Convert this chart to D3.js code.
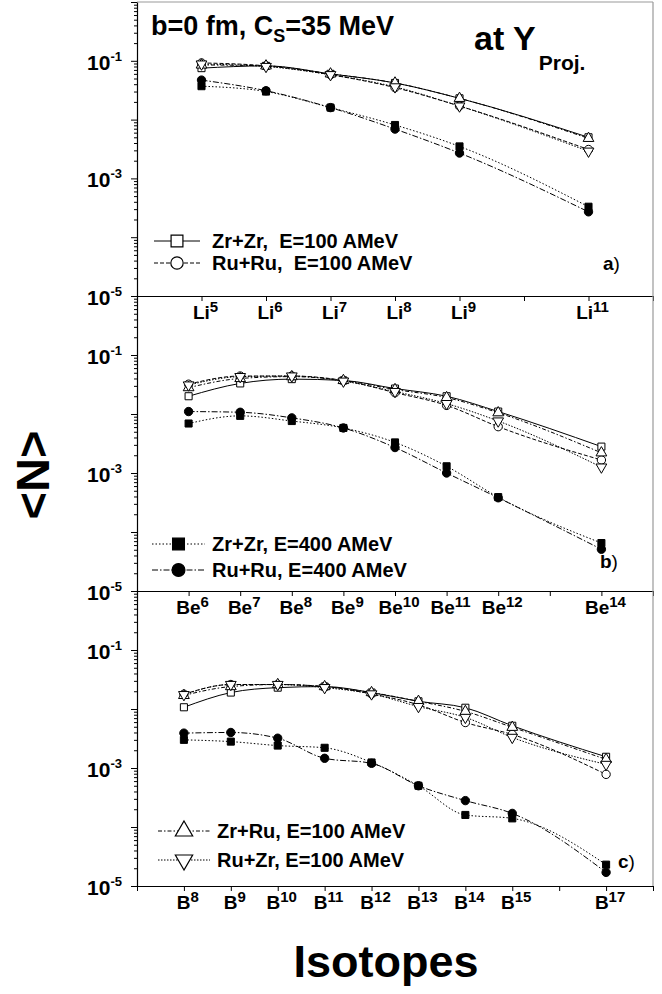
<!DOCTYPE html>
<html>
<head>
<meta charset="utf-8">
<script src="https://cdn.jsdelivr.net/npm/d3@7"></script>
<style>
  body { margin: 0; background: #fff; }
  svg { display: block; font-family: 'Liberation Sans', Arial, sans-serif; }
  text { white-space: pre; }
</style>
</head>
<body>
<svg id="chart"></svg>
<script>
// mass numbers shown on each panel
const liMass = [5, 6, 7, 8, 9, 11];
const beMass = [6, 7, 8, 9, 10, 11, 12, 14];
const bMass = [8, 9, 10, 11, 12, 13, 14, 15, 17];

// <N>, one array per system
const liZrZr100 = [0.075, 0.082, 0.060, 0.042, 0.023, 0.0050];
const liRuRu100 = [0.092, 0.082, 0.058, 0.035, 0.017, 0.0031];
const liZrZr400 = [0.037, 0.030, 0.016, 0.0081, 0.0035, 0.00033];
const liRuRu400 = [0.047, 0.031, 0.016, 0.0069, 0.0027, 0.00027];
const liZrRu100 = [0.085, 0.082, 0.060, 0.042, 0.023, 0.0048];
const liRuZr100 = [0.088, 0.080, 0.058, 0.036, 0.017, 0.0029];

const beZrZr100 = [0.020, 0.033, 0.039, 0.037, 0.027, 0.020, 0.011, 0.0028];
const beRuRu100 = [0.032, 0.044, 0.044, 0.037, 0.023, 0.014, 0.0061, 0.00166];
const beZrZr400 = [0.0069, 0.0093, 0.0076, 0.0058, 0.0033, 0.0013, 0.00039, 0.000065];
const beRuRu400 = [0.011, 0.0107, 0.0086, 0.0058, 0.0027, 0.0010, 0.00038, 0.000051];
const beZrRu100 = [0.028, 0.040, 0.043, 0.037, 0.026, 0.019, 0.0105, 0.0022];
const beRuZr100 = [0.031, 0.043, 0.044, 0.036, 0.024, 0.015, 0.0076, 0.00126];

const bZrZr100 = [0.0107, 0.019, 0.023, 0.024, 0.019, 0.0135, 0.0105, 0.0052, 0.00155];
const bRuRu100 = [0.0178, 0.026, 0.026, 0.024, 0.018, 0.0118, 0.0059, 0.0037, 0.00078];
const bZrZr400 = [0.0030, 0.0028, 0.0024, 0.0022, 0.00124, 0.0005, 0.00016, 0.00014, 0.000023];
const bRuRu400 = [0.0039, 0.0040, 0.0032, 0.00146, 0.0012, 0.0005, 0.00028, 0.00017, 0.000017];
const bZrRu100 = [0.017, 0.024, 0.026, 0.024, 0.019, 0.0135, 0.0091, 0.0049, 0.0014];
const bRuZr100 = [0.0175, 0.026, 0.026, 0.023, 0.018, 0.011, 0.0072, 0.0033, 0.00115];

const legendText = {
  zrzr100: 'Zr+Zr,  E=100 AMeV',
  ruru100: 'Ru+Ru,  E=100 AMeV',
  zrzr400: 'Zr+Zr, E=400 AMeV',
  ruru400: 'Ru+Ru, E=400 AMeV',
  zrru100: 'Zr+Ru, E=100 AMeV',
  ruzr100: 'Ru+Zr, E=100 AMeV'
};

const panelTags = ['a)', 'b)', 'c)'];

(() => {
  const width = 662;
  const height = 994;
  const left = 137;
  const right = 653;

  const style = {
    zrzr100: { type: d3.symbolSquare, fill: '#fff', dash: null, size: 50, lsize: 140 },
    ruru100: { type: d3.symbolCircle, fill: '#fff', dash: '4,2', size: 55, lsize: 120 },
    zrzr400: { type: d3.symbolSquare, fill: '#000', dash: '1.5,2', size: 50, lsize: 140 },
    ruru400: { type: d3.symbolCircle, fill: '#000', dash: '6,2,1.5,2', size: 55, lsize: 130 },
    zrru100: { type: d3.symbolTriangle, fill: '#fff', dash: '4,2,1.5,2', size: 50, lsize: 130 },
    ruzr100: { type: d3.symbolTriangle, fill: '#fff', dash: '1.5,1.5', size: 50, lsize: 130, flip: true }
  };

  const panels = [
    {
      el: 'Li', mass: liMass, shift: 4, xMax: 8, top: 2, bottom: 296,
      values: { zrzr100: liZrZr100, ruru100: liRuRu100, zrzr400: liZrZr400, ruru400: liRuRu400, zrru100: liZrRu100, ruzr100: liRuZr100 },
      legend: ['zrzr100', 'ruru100'], lx: [154, 200, 212], ly: [241, 263], tag: [603, 270]
    },
    {
      el: 'Be', mass: beMass, shift: 5, xMax: 10, top: 296, bottom: 591,
      values: { zrzr100: beZrZr100, ruru100: beRuRu100, zrzr400: beZrZr400, ruru400: beRuRu400, zrru100: beZrRu100, ruzr100: beRuZr100 },
      legend: ['zrzr400', 'ruru400'], lx: [152, 205, 212], ly: [544, 570], tag: [600, 568]
    },
    {
      el: 'B', mass: bMass, shift: 7, xMax: 11, top: 591, bottom: 886,
      values: { zrzr100: bZrZr100, ruru100: bRuRu100, zrzr400: bZrZr400, ruru400: bRuRu400, zrru100: bZrRu100, ruzr100: bRuZr100 },
      legend: ['zrru100', 'ruzr100'], lx: [158, 210, 217], ly: [831, 860], tag: [618, 868]
    }
  ];

  const svg = d3.select('#chart')
    .attr('width', width)
    .attr('height', height);

  const symbolPath = (key, big) => d3.symbol()
    .type(style[key].type)
    .size(big ? style[key].lsize : style[key].size)();

  panels.forEach((p, pi) => {
    const x = d3.scaleLinear().domain([0, p.xMax]).range([left, right]);
    const y = d3.scaleLog().domain([1e-5, 1]).range([p.bottom, p.top]);

    // frame (right and top lines are light in the original)
    svg.append('line')
      .attr('x1', right).attr('x2', right)
      .attr('y1', p.top).attr('y2', p.bottom)
      .attr('stroke', '#999').attr('stroke-width', 1.2);
    if (pi === 0) {
      svg.append('line')
        .attr('x1', left).attr('x2', right)
        .attr('y1', p.top).attr('y2', p.top)
        .attr('stroke', '#999').attr('stroke-width', 1.2);
    }

    // left log axis
    const yAxis = svg.append('g')
      .attr('transform', `translate(${left},0)`)
      .call(d3.axisLeft(y).tickValues(y.ticks()).tickSize(6).tickSizeOuter(0).tickFormat(''));
    yAxis.selectAll('.tick line')
      .attr('x2', d => Math.abs(Math.log10(d) - Math.round(Math.log10(d))) < 1e-9 ? -6 : -3);
    yAxis.select('.domain').attr('stroke-width', 1.2);

    [1e-1, 1e-3, 1e-5].forEach(v => {
      const t = svg.append('text')
        .attr('x', 122)
        .attr('y', y(v) + 9)
        .attr('text-anchor', 'end')
        .attr('font-size', 21)
        .attr('font-weight', 'bold')
        .text('10');
      t.append('tspan')
        .attr('dy', -9)
        .attr('font-size', 13)
        .text(String(Math.round(Math.log10(v))));
    });

    // bottom axis
    const xAxis = svg.append('g')
      .attr('transform', `translate(0,${p.bottom})`)
      .call(d3.axisBottom(x).tickValues(d3.range(0, p.xMax + 1)).tickSize(5).tickSizeOuter(0).tickFormat(''));
    xAxis.select('.domain').attr('stroke-width', 1.2);

    p.mass.forEach(m => {
      const t = svg.append('text')
        .attr('x', x(m - p.shift) + 4)
        .attr('y', p.bottom + 23)
        .attr('text-anchor', 'middle')
        .attr('font-size', 19)
        .attr('font-weight', 'bold')
        .text(p.el);
      t.append('tspan')
        .attr('dy', -7)
        .attr('font-size', 15)
        .text(String(m));
    });

    // curves
    const line = d3.line()
      .x((d, i) => x(p.mass[i] - p.shift))
      .y(d => y(d))
      .curve(d3.curveMonotoneX);

    const keys = Object.keys(p.values);
    keys.forEach(k => {
      svg.append('path')
        .attr('d', line(p.values[k]))
        .attr('fill', 'none')
        .attr('stroke', '#000')
        .attr('stroke-width', 1)
        .attr('stroke-dasharray', style[k].dash);
    });

    keys.forEach(k => {
      svg.append('g')
        .selectAll('path')
        .data(p.values[k])
        .enter()
        .append('path')
          .attr('d', symbolPath(k, false))
          .attr('transform', (d, i) => `translate(${x(p.mass[i] - p.shift)},${y(d)})${style[k].flip ? ' rotate(180)' : ''}`)
          .attr('fill', style[k].fill)
          .attr('stroke', '#000')
          .attr('stroke-width', 1);
    });

    // legend
    p.legend.forEach((k, i) => {
      const cy = p.ly[i];
      svg.append('line')
        .attr('x1', p.lx[0]).attr('x2', p.lx[1])
        .attr('y1', cy).attr('y2', cy)
        .attr('stroke', '#000')
        .attr('stroke-width', 1)
        .attr('stroke-dasharray', style[k].dash);
      svg.append('path')
        .attr('d', symbolPath(k, true))
        .attr('transform', `translate(${(p.lx[0] + p.lx[1]) / 2},${cy})${style[k].flip ? ' rotate(180)' : ''}`)
        .attr('fill', style[k].fill)
        .attr('stroke', '#000')
        .attr('stroke-width', 1.2);
      svg.append('text')
        .attr('x', p.lx[2])
        .attr('y', cy + 7)
        .attr('font-size', 20)
        .attr('font-weight', 'bold')
        .text(legendText[k]);
    });

    const tag = svg.append('text')
      .attr('x', p.tag[0])
      .attr('y', p.tag[1])
      .attr('font-size', 19)
      .attr('font-weight', 'bold')
      .text(panelTags[pi].slice(0, 1));
    tag.append('tspan')
      .attr('font-weight', 'normal')
      .text(')');
  });

  // header texts
  const title = svg.append('text')
    .attr('x', 151)
    .attr('y', 35)
    .attr('font-size', 27)
    .attr('font-weight', 'bold')
    .text('b=0 fm, C');
  title.append('tspan').attr('dy', 7).attr('font-size', 18).text('S');
  title.append('tspan').attr('dy', -7).text('=35 MeV');

  const proj = svg.append('text')
    .attr('x', 474)
    .attr('y', 50)
    .attr('font-size', 34)
    .attr('font-weight', 'bold')
    .text('at Y');
  proj.append('tspan').attr('dy', 20).attr('dx', 3).attr('font-size', 21).text('Proj.');

  svg.append('text')
    .attr('transform', 'translate(49,475) rotate(-90)')
    .attr('text-anchor', 'middle')
    .attr('font-size', 47)
    .attr('font-weight', 'bold')
    .text('<N>');

  svg.append('text')
    .attr('x', 386)
    .attr('y', 977)
    .attr('text-anchor', 'middle')
    .attr('font-size', 45)
    .attr('font-weight', 'bold')
    .text('Isotopes');
})();
</script>
</body>
</html>
